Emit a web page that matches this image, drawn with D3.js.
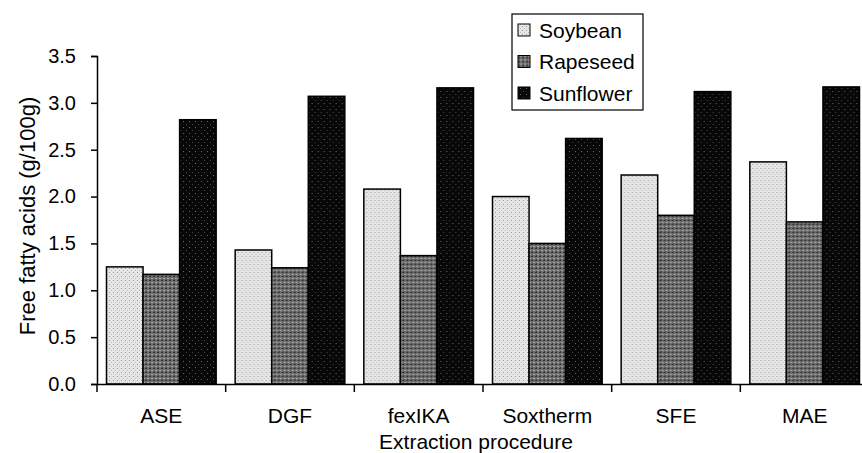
<!DOCTYPE html>
<html>
<head>
<meta charset="utf-8">
<script src="https://cdn.jsdelivr.net/npm/d3@7"></script>
<style>
  body { margin: 0; background: #fff; }
  text { font-family: "Liberation Sans", Arial, sans-serif; fill: #000; }
</style>
</head>
<body>
<script>
  //chart data
  var procedures = ["ASE", "DGF", "fexIKA", "Soxtherm", "SFE", "MAE"];
  var seriesNames = ["Soybean", "Rapeseed", "Sunflower"];
  var soybean = [1.25, 1.43, 2.08, 2.00, 2.23, 2.37];
  var rapeseed = [1.17, 1.24, 1.37, 1.50, 1.80, 1.73];
  var sunflower = [2.82, 3.07, 3.16, 2.62, 3.12, 3.17];
  var yTicks = [0, 0.5, 1, 1.5, 2, 2.5, 3, 3.5];

  var w = 862; //svg width
  var h = 453; //svg height
  var axisY = 384; //baseline of the bars

  var values = [soybean, rapeseed, sunflower];

  var svg = d3.select("body")
      .append("svg")
      .attr("width", w)
      .attr("height", h);

  //PATTERNS (print-like halftone fills)
  var defs = svg.append("defs");

  var soyPat = defs.append("pattern")
      .attr("id", "pSoy")
      .attr("patternUnits", "userSpaceOnUse")
      .attr("width", 4).attr("height", 4);
  soyPat.append("rect").attr("width", 4).attr("height", 4).attr("fill", "#e6e6e6");
  soyPat.append("rect").attr("x", 0).attr("y", 0).attr("width", 1).attr("height", 1).attr("fill", "#999");
  soyPat.append("rect").attr("x", 2).attr("y", 2).attr("width", 1).attr("height", 1).attr("fill", "#bbb");

  var rapePat = defs.append("pattern")
      .attr("id", "pRape")
      .attr("patternUnits", "userSpaceOnUse")
      .attr("width", 4).attr("height", 4);
  rapePat.append("rect").attr("width", 4).attr("height", 4).attr("fill", "#6e6e6e");
  rapePat.append("rect").attr("x", 0).attr("y", 0).attr("width", 2).attr("height", 1).attr("fill", "#333");
  rapePat.append("rect").attr("x", 2).attr("y", 2).attr("width", 2).attr("height", 1).attr("fill", "#a4a4a4");
  rapePat.append("rect").attr("x", 1).attr("y", 3).attr("width", 1).attr("height", 1).attr("fill", "#444");

  var sunPat = defs.append("pattern")
      .attr("id", "pSun")
      .attr("patternUnits", "userSpaceOnUse")
      .attr("width", 6).attr("height", 6);
  sunPat.append("rect").attr("width", 6).attr("height", 6).attr("fill", "#080808");
  sunPat.append("rect").attr("x", 2).attr("y", 1).attr("width", 1).attr("height", 1).attr("fill", "#666");
  sunPat.append("rect").attr("x", 5).attr("y", 4).attr("width", 1).attr("height", 1).attr("fill", "#444");

  var fills = ["url(#pSoy)", "url(#pRape)", "url(#pSun)"];

  //SCALES
  var x = d3.scaleBand()
      .domain(procedures)
      .range([97, 869]);

  var x1 = d3.scaleBand()
      .domain(seriesNames)
      .range([9.5, x.bandwidth() - 9.5]);

  var y = d3.scaleLinear()
      .domain([0, 3.5])
      .range([axisY, 56]);

  //BARS
  var groups = svg.selectAll("g.group")
      .data(procedures)
      .enter()
      .append("g")
      .attr("class", "group")
      .attr("transform", function(d) { return "translate(" + x(d) + ",0)"; });

  groups.selectAll("rect")
      .data(function(d, i) {
          return seriesNames.map(function(s, k) {
              return { series: s, k: k, value: values[k][i] };
          });
      })
      .enter()
      .append("rect")
      .attr("x", function(d) { return x1(d.series); })
      .attr("y", function(d) { return y(d.value); })
      .attr("width", x1.bandwidth())
      .attr("height", function(d) { return y(0) - y(d.value); })
      .attr("fill", function(d) { return fills[d.k]; })
      .attr("stroke", "#000")
      .attr("stroke-width", 1.5);

  //AXES
  var yAxis = svg.append("g")
      .attr("transform", "translate(97,0)")
      .call(d3.axisLeft(y).tickValues(yTicks).tickFormat(d3.format(".1f")).tickSize(6).tickPadding(15));

  var xAxis = svg.append("g")
      .attr("transform", "translate(0," + axisY + ")")
      .call(d3.axisBottom(x).tickSize(0).tickPadding(24));

  //category boundary ticks
  svg.selectAll("line.bound")
      .data(procedures)
      .enter()
      .append("line")
      .attr("class", "bound")
      .attr("x1", function(d) { return x(d); })
      .attr("x2", function(d) { return x(d); })
      .attr("y1", axisY)
      .attr("y2", axisY + 8)
      .attr("stroke", "#000")
      .attr("stroke-width", 1.5);

  svg.selectAll(".domain").attr("stroke", "#000").attr("stroke-width", 1.5);
  yAxis.selectAll(".tick line").attr("stroke", "#000").attr("stroke-width", 1.5);
  yAxis.selectAll(".tick text")
      .style("font-family", "'Liberation Sans', Arial, sans-serif")
      .style("font-size", "20px")
      .attr("fill", "#000");
  xAxis.selectAll(".tick text")
      .style("font-family", "'Liberation Sans', Arial, sans-serif")
      .style("font-size", "21px")
      .attr("fill", "#000");

  //AXIS TITLES
  svg.append("text")
      .attr("x", 476)
      .attr("y", 449)
      .attr("text-anchor", "middle")
      .style("font-size", "21px")
      .text("Extraction procedure");

  svg.append("text")
      .attr("transform", "translate(35,216) rotate(-90)")
      .attr("text-anchor", "middle")
      .style("font-size", "22px")
      .text("Free fatty acids  (g/100g)");

  //LEGEND
  var legend = svg.append("g")
      .attr("transform", "translate(512,14)");

  legend.append("rect")
      .attr("width", 131)
      .attr("height", 96)
      .attr("fill", "#fff")
      .attr("stroke", "#000")
      .attr("stroke-width", 1.2);

  var items = legend.selectAll("g.item")
      .data(seriesNames)
      .enter()
      .append("g")
      .attr("class", "item")
      .attr("transform", function(d, i) { return "translate(6," + (16 + i * 31.5) + ")"; });

  items.append("rect")
      .attr("x", 0)
      .attr("y", -6)
      .attr("width", 12)
      .attr("height", 12)
      .attr("fill", function(d, i) { return fills[i]; })
      .attr("stroke", "#000")
      .attr("stroke-width", 1);

  items.append("text")
      .attr("x", 21)
      .attr("y", 7.5)
      .style("font-size", "21px")
      .text(function(d) { return d; });
</script>
</body>
</html>
